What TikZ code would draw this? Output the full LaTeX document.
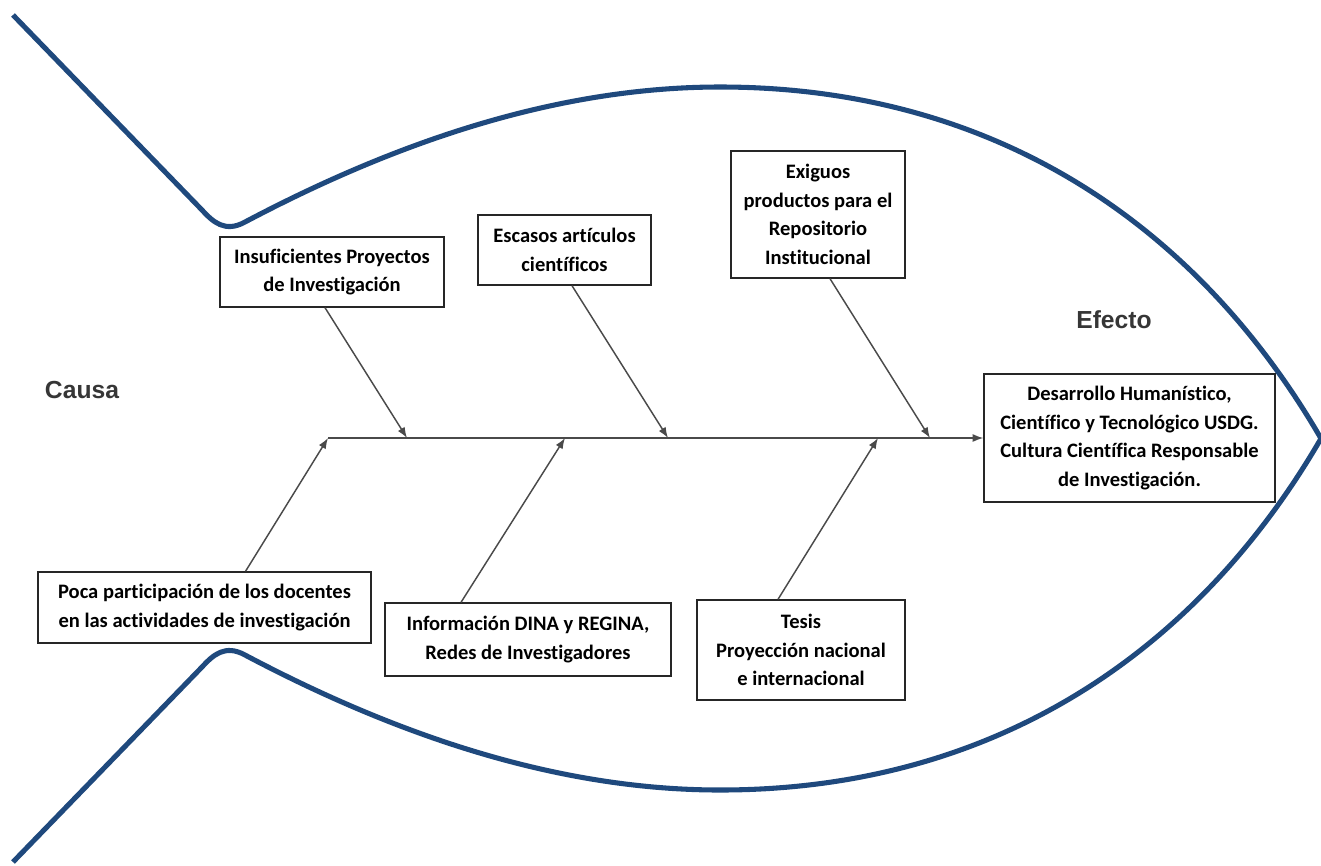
\documentclass[tikz,border=0pt]{standalone}
\usepackage{fontspec}
\setmainfont{Carlito}[Ligatures={NoCommon}]
\setsansfont{Liberation Sans}
\usetikzlibrary{arrows.meta,calc}
\definecolor{fishblue}{HTML}{1F497D}
\definecolor{arrgray}{HTML}{4A4A4A}
\definecolor{lblgray}{HTML}{363636}
\begin{document}
\begin{tikzpicture}[x=0.75pt,y=-0.75pt,
  fish/.style={draw=fishblue, line width=3.8pt, line join=round},
  cbox/.style={draw=black!85, line width=1pt, fill=white, align=center, inner sep=0pt,
    font=\bfseries\fontsize{15.4}{21.5}\selectfont},
  arr/.style={draw=arrgray, line width=1.1pt, -{Latex[length=8pt,width=6pt]}},
  lbl/.style={font=\sffamily\bfseries\fontsize{18.5}{22}\selectfont, text=lblgray}]
\useasboundingbox (0,0) rectangle (1321,865);

% fish outline
\draw[fish] (13,15) -- (202,210) .. controls (213,222) and (225,233) .. (245,222)
  .. controls (400,140) and (560,87) .. (720,87)
  .. controls (1000,87) and (1200,230) .. (1321,438.5)
  .. controls (1200,647) and (1000,790) .. (720,790)
  .. controls (560,790) and (400,737) .. (245,655)
  .. controls (225,644) and (213,655) .. (202,667) -- (13,862);

% labels
\node[lbl] (causa) at (82,390) {Causa};
\node[lbl] (efecto) at (1114,320) {Efecto};

% boxes
\node[cbox, minimum width={224*0.75pt}, minimum height={70*0.75pt}] (b1) at (332,272)
  {Insuficientes Proyectos\\de Investigación};
\node[cbox, minimum width={173*0.75pt}, minimum height={70*0.75pt}] (b2) at (564.5,250)
  {Escasos artículos\\científicos};
\node[cbox, minimum width={174*0.75pt}, minimum height={127*0.75pt}] (b3) at (818,214.5)
  {Exiguos\\productos para el\\Repositorio\\Institucional};
\node[cbox, minimum width={291*0.75pt}, minimum height={128*0.75pt}] (eff) at (1129.5,438)
  {Desarrollo Humanístico,\\Científico y Tecnológico USDG.\\Cultura Científica Responsable\\de Investigación.};
\node[cbox, minimum width={333*0.75pt}, minimum height={71*0.75pt}] (b5) at (204.5,607.5)
  {Poca participación de los docentes\\en las actividades de investigación};
\node[cbox, minimum width={286*0.75pt}, minimum height={73*0.75pt}] (b6) at (528,639.5)
  {Información DINA y REGINA,\\Redes de Investigadores};
\node[cbox, minimum width={208*0.75pt}, minimum height={100*0.75pt}] (b7) at (801,650)
  {Tesis\\Proyección nacional\\e internacional};

% spine
\coordinate (sp0) at (328,438);
\coordinate (s1) at (407,438);
\coordinate (s2) at (668,438);
\coordinate (s3) at (930,438);
\coordinate (s5) at (565,438);
\coordinate (s6) at (878,438);
\draw[arr] (sp0) -- (eff.west);

% branches
\draw[arr] ($(b1.south)+(-7,0)$) -- (s1);
\draw[arr] ($(b2.south)+(7.5,0)$) -- (s2);
\draw[arr] ($(b3.south)+(12,0)$) -- (s3);
\draw[arr] ($(b5.north)+(41,0)$) -- (sp0);
\draw[arr] ($(b6.north)+(-67,0)$) -- (s5);
\draw[arr] ($(b7.north)+(-23,0)$) -- (s6);
\end{tikzpicture}
\end{document}
